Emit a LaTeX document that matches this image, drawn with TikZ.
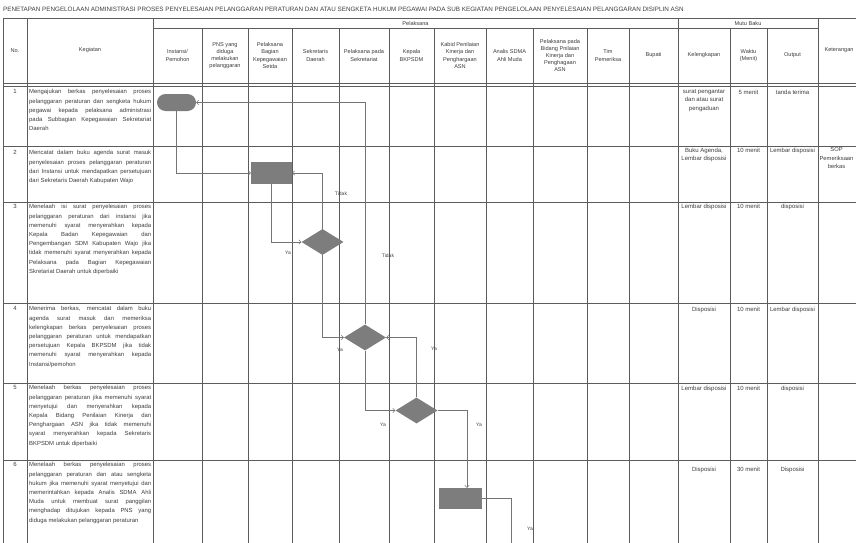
\documentclass[tikz,border=0pt]{standalone}
\usepackage{fontspec}
\setmainfont{Liberation Sans}
\usepackage{tikz}
\usetikzlibrary{shapes.geometric, arrows.meta, positioning, calc}
\definecolor{garisAbu}{HTML}{5C5C5C}
\definecolor{alurAbu}{HTML}{747474}
\definecolor{teksAbu}{HTML}{3E3E3E}
\definecolor{isiAbu}{HTML}{7D7D7D}
\newcommand{\hurufKeg}{\fontsize{5.9}{9.2}\selectfont\tolerance=10000\relax\hbadness=10000\relax}
\tikzset{
	>={Straight Barb[length=2.2pt,width=4.4pt]},
	garis/.style={draw=garisAbu, line width=0.6pt},
	alur/.style={draw=alurAbu, line width=0.5pt},
	kepala/.style={text=teksAbu, inner sep=0pt, align=center, font=\fontsize{5.6}{7.2}\selectfont},
	isian/.style={text=teksAbu, inner sep=0pt, align=center, anchor=north, font=\fontsize{6}{8.4}\selectfont},
	kegiatan/.style={text=teksAbu, inner sep=0pt, anchor=north west, text width=122pt, align=justify, font=\hurufKeg},
	terminal/.style={fill=isiAbu, rounded corners=8.5pt, minimum width=39pt, minimum height=17pt, inner sep=0pt},
	proses/.style={fill=isiAbu, minimum width=41pt, minimum height=22pt, inner sep=0pt},
	putusan/.style={diamond, fill=isiAbu, minimum width=42pt, minimum height=26pt, inner sep=0pt},
	ket/.style={text=teksAbu, inner sep=0pt, font=\fontsize{5}{6}\selectfont}
}

\begin{document}
\begin{tikzpicture}[x=1pt, y=-1pt]
	% IMAGE SIZE
	\newcommand{\lebar}{856} \newcommand{\tinggi}{543}
	\fill[white] (0,0) rectangle (\lebar,\tinggi);
	\useasboundingbox (0,0) rectangle (\lebar,\tinggi);
	\clip (0,0) rectangle (\lebar,\tinggi);
	
	% Title
	\node[anchor=west, inner sep=0pt, text=teksAbu, font=\fontsize{6.3}{7}\selectfont] (judul) at (3,9)
	{PENETAPAN PENGELOLAAN ADMINISTRASI PROSES PENYELESAIAN PELANGGARAN PERATURAN DAN ATAU SENGKETA HUKUM PEGAWAI PADA SUB KEGIATAN PENGELOLAAN PENYELESAIAN PELANGGARAN DISIPLIN ASN};
	
	% Table grid
	\draw[garis] (3,18) -- (\lebar,18);
	\draw[garis] (153,28) -- (818,28);
	\draw[garis] (3,83) -- (\lebar,83);
	\draw[garis] (3,86) -- (\lebar,86);
	\foreach \y in {146,202,303,383,460}
	{
		\draw[garis] (3,\y) -- (\lebar,\y);
	}
	\foreach \x in {3,27,153,678,818}
	{
		\draw[garis] (\x,18) -- (\x,\tinggi);
	}
	\foreach \x in {202,248,292,339,389,434,486,533,587,629,730,767}
	{
		\draw[garis] (\x,28) -- (\x,\tinggi);
	}
	
	% Header
	\node[kepala] (hNo) at (15,50.5) {No.};
	\node[kepala] (hKegiatan) at (90,50.5) {Kegiatan};
	\node[kepala] (hPelaksana) at (415.5,23) {Pelaksana};
	\node[kepala] (hMutu) at (748,23) {Mutu Baku};
	\node[kepala] (hKet) at (839,50.5) {Keterangan};
	\node[kepala] (hInstansi) at (177.5,55.5) {Instansi/\\Pemohon};
	\node[kepala] (hPns) at (225,55.5) {PNS yang\\diduga\\melakukan\\pelanggaran};
	\node[kepala] (hSetda) at (270,55.5) {Pelaksana\\Bagian\\Kepegawaian\\Setda};
	\node[kepala] (hSekda) at (315.5,55.5) {Sekretaris\\Daerah};
	\node[kepala] (hSekretariat) at (364,55.5) {Pelaksana pada\\Sekretariat};
	\node[kepala] (hKepala) at (411.5,55.5) {Kepala\\BKPSDM};
	\node[kepala] (hKabid) at (460,55.5) {Kabid Penilaian\\Kinerja dan\\Penghargaan\\ASN};
	\node[kepala] (hAnalis) at (509.5,55.5) {Analis SDMA\\Ahli Muda};
	\node[kepala] (hBidang) at (560,55.5) {Pelaksana pada\\Bidang Pnilaian\\Kinerja dan\\Penghagaan\\ASN};
	\node[kepala] (hTim) at (608,55.5) {Tim\\Pemeriksa};
	\node[kepala] (hBupati) at (653.5,55.5) {Bupati};
	\node[kepala] (hLengkap) at (704,55.5) {Kelengkapan};
	\node[kepala] (hWaktu) at (748.5,55.5) {Waktu\\(Menit)};
	\node[kepala] (hOutput) at (792.5,55.5) {Output};
	
	% Row numbers
	\foreach \n/\y in {1/89.5, 2/150.5, 3/204.5, 4/306.5, 5/385.5, 6/462.5}
	{
		\node[isian] (no\n) at (15,\y) {\n};
	}
	
	% Kegiatan
	\node[kegiatan] (keg1) at (29,89.5) {Mengajukan berkas penyelesaian proses\linebreak
		pelanggaran peraturan dan sengketa hukum\linebreak pegawai kepada pelaksana administrasi\linebreak
		pada Subbagian Kepegawaian Sekretariat\linebreak Daerah};
	\node[kegiatan] (keg2) at (29,150.5) {Mencatat dalam buku agenda surat masuk\linebreak
		penyelesaian proses pelanggaran peraturan\linebreak dari Instansi untuk mendapatkan persetujuan\linebreak
		dari Sekretaris Daerah Kabupaten Wajo};
	\node[kegiatan] (keg3) at (29,204.5) {Menelaah isi surat penyelesaian proses\linebreak
		pelanggaran peraturan dari instansi jika\linebreak memenuhi syarat menyerahkan kepada\linebreak
		Kepala Badan Kepegawaian dan\linebreak Pengembangan SDM Kabupaten Wajo jika\linebreak
		tidak memenuhi syarat menyerahkan kepada\linebreak Pelaksana pada Bagian Kepegawaian\linebreak
		Skretariat Daerah untuk diperbaiki};
	\node[kegiatan] (keg4) at (29,306.5) {Menerima berkas, mencatat dalam buku\linebreak
		agenda surat masuk dan memeriksa\linebreak kelengkapan berkas penyelesaian proses\linebreak
		pelanggaran peraturan untuk mendapatkan\linebreak persetujuan Kepala BKPSDM jika tidak\linebreak
		memenuhi syarat menyerahkan kepada\linebreak Instansi/pemohon};
	\node[kegiatan] (keg5) at (29,385.5) {Menelaah berkas penyelesaian proses\linebreak
		pelanggaran peraturan jika memenuhi syarat\linebreak menyetujui dan menyerahkan kepada\linebreak
		Kepala Bidang Penilaian Kinerja dan\linebreak Penghargaan ASN jika tidak memenuhi\linebreak
		syarat menyerahkan kepada Sekretaris\linebreak BKPSDM untuk diperbaiki};
	\node[kegiatan] (keg6) at (29,462.5) {Menelaah berkas penyelesaian proses\linebreak
		pelanggaran peraturan dan atau sengketa\linebreak hukum jika memenuhi syarat menyetujui dan\linebreak
		memerintahkan kepada Analis SDMA Ahli\linebreak Muda untuk membuat surat panggilan\linebreak
		menghadap ditujukan kepada PNS yang\linebreak diduga melakukan pelanggaran peraturan};
	
	% Mutu Baku
	\node[isian] (lengkap1) at (704,89.5) {surat pengantar\\dan atau surat\\pengaduan};
	\node[isian] (waktu1) at (748.5,89.5) {5 menit};
	\node[isian] (output1) at (792.5,89.5) {tanda terima};
	\node[isian] (lengkap2) at (704,147.5) {Buku Agenda,\\Lembar disposisi};
	\node[isian] (waktu2) at (748.5,147.5) {10 menit};
	\node[isian] (output2) at (792.5,147.5) {Lembar disposisi};
	\node[isian, font=\fontsize{5.8}{8.4}\selectfont] (ket2) at (836.5,147.5) {SOP\\Pemeriksaan\\berkas};
	\node[isian] (lengkap3) at (704,203.5) {Lembar disposisi};
	\node[isian] (waktu3) at (748.5,203.5) {10 menit};
	\node[isian] (output3) at (792.5,203.5) {disposisi};
	\node[isian] (lengkap4) at (704,306.5) {Disposisi};
	\node[isian] (waktu4) at (748.5,306.5) {10 menit};
	\node[isian] (output4) at (792.5,306.5) {Lembar disposisi};
	\node[isian] (lengkap5) at (704,385.5) {Lembar disposisi};
	\node[isian] (waktu5) at (748.5,385.5) {10 menit};
	\node[isian] (output5) at (792.5,385.5) {disposisi};
	\node[isian] (lengkap6) at (704,466.5) {Disposisi};
	\node[isian] (waktu6) at (748.5,466.5) {30 menit};
	\node[isian] (output6) at (792.5,466.5) {Disposisi};
	
	% Flow shapes
	\node[terminal] (mulai) at (176.5,102.5) {};
	\node[proses] (catat) at (271.5,173) {};
	\node[putusan] (telaah) at (322.5,242) {};
	\node[putusan] (periksa) at (365,337.5) {};
	\node[putusan] (setuju) at (416.5,410.5) {};
	\node[proses, minimum width=43pt, minimum height=21pt] (perintah) at (460.5,498.5) {};
	\coordinate (lanjut) at (511,\tinggi+5);
	
	% Connectors
	\draw[alur, ->] (mulai.south) |- (catat.west);
	\draw[alur, ->] (catat.south) |- (telaah.west);
	\draw[alur, ->] (telaah.north) |- (catat.east);
	\draw[alur, ->] (telaah.south) |- (periksa.west);
	\draw[alur, ->] (periksa.north) |- (mulai.east);
	\draw[alur, ->] (periksa.south) |- (setuju.west);
	\draw[alur, ->] (setuju.north) |- (periksa.east);
	\draw[alur, ->] (setuju.east) -| ([xshift=6.5pt]perintah.north);
	\draw[alur] (perintah.east) -| (lanjut);
	
	% Connector labels
	\node[ket] (tidak1) at (341,194) {Tidak};
	\node[ket] (ya1) at (288,253) {Ya};
	\node[ket] (tidak2) at (388,256) {Tidak};
	\node[ket] (ya2) at (340,350) {Ya};
	\node[ket] (ya3) at (434,349) {Ya};
	\node[ket] (ya4) at (383,425) {Ya};
	\node[ket] (ya5) at (479,425) {Ya};
	\node[ket] (ya6) at (530,529) {Ya};
\end{tikzpicture}
\end{document}
